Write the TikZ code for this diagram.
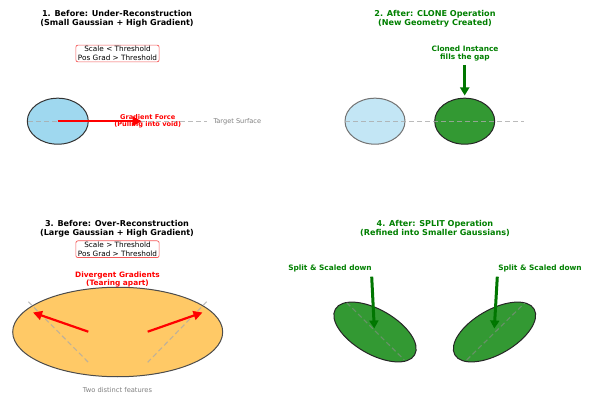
\documentclass[tikz,border=0pt]{standalone}
\usepackage{fontspec}
\setmainfont{DejaVu Sans}
\usetikzlibrary{arrows.meta,shapes.geometric}
\definecolor{skyfill}{RGB}{159,216,239}
\definecolor{lightsky}{RGB}{195,230,245}
\definecolor{gfill}{RGB}{51,153,51}
\definecolor{ofill}{RGB}{255,201,102}
\definecolor{mgreen}{RGB}{0,128,0}
\definecolor{agreen}{RGB}{0,118,0}
\definecolor{dgreen}{RGB}{0,100,0}
\definecolor{boxred}{RGB}{245,90,90}
\definecolor{guide}{RGB}{170,170,170}
\definecolor{gtext}{RGB}{128,128,128}
\tikzset{
  ttl/.style={align=center,inner sep=0pt,font=\fontsize{8.1}{9.3}\selectfont\bfseries},
  condbox/.style={draw=boxred,line width=0.7pt,rounded corners=2pt,fill=white,align=center,inner xsep=2pt,inner ysep=1.2pt,font=\fontsize{7.3}{8.7}\selectfont},
  blob/.style={ellipse,inner sep=0pt,line width=1pt},
  guideline/.style={draw=guide,line width=1.1pt,dash pattern=on 5pt off 3pt},
  redarrow/.style={draw=red,line width=2.2pt,-{Triangle[length=9pt,width=9pt]}},
  grarrow/.style={draw=agreen,line width=3pt,-{Triangle[length=8pt,width=9pt,fill=mgreen]}},
  smallnote/.style={inner sep=0pt,font=\fontsize{6.6}{7.6}\selectfont,text=gtext},
  lbl/.style={inner sep=0pt,align=center,font=\fontsize{7.4}{8.8}\selectfont\bfseries},
}
\begin{document}
\begin{tikzpicture}[x=1pt,y=-1pt]
\useasboundingbox[fill=white] (0,0) rectangle (602,395);

% ---------- Panel 1 ----------
\node[ttl] (t1) at (117,18.5) {1. Before: Under-Reconstruction\\(Small Gaussian + High Gradient)};
\node[condbox] (b1) at (117.5,53.5) {Scale < Threshold\\Pos Grad > Threshold};
\node[blob,draw=black!80,fill=skyfill,minimum width=61pt,minimum height=46pt] (e1) at (57.8,121.2) {};
\coordinate (g1a) at (28.3,121.2);
\coordinate (g1b) at (206.7,121.2);
\draw[guideline,draw opacity=0.8] (g1a) -- (g1b);
\node[smallnote,anchor=west] (ts) at (213.3,121.2) {Target Surface};
\coordinate (a1s) at (57.7,121.2);
\coordinate (a1e) at (141.7,121.2);
\draw[redarrow] (a1s) -- (a1e);
\node[lbl,text=red,font=\fontsize{6.6}{7.2}\selectfont\bfseries] (gf) at (147.7,121) {Gradient Force\\(Pulling into void)};

% ---------- Panel 2 ----------
\node[ttl,text=mgreen] (t2) at (435,18.5) {2. After: CLONE Operation\\(New Geometry Created)};
\coordinate (g2a) at (345,121.2);
\coordinate (g2b) at (524,121.2);
\node[blob,draw=black!55,fill=lightsky,minimum width=60pt,minimum height=46pt] (e2a) at (375,121.2) {};
\node[blob,draw=black!85,fill=gfill,minimum width=60pt,minimum height=46pt] (e2b) at (464.7,121.2) {};
\draw[guideline,draw opacity=0.8] (g2a) -- (g2b);
\node[lbl,text=mgreen] (cl) at (465,53.5) {Cloned Instance\\fills the gap};
\coordinate (a2s) at (464.7,65);
\coordinate (a2e) at (464.7,95.5);
\draw[grarrow] (a2s) -- (a2e);

% ---------- Panel 3 ----------
\node[ttl] (t3) at (117,228.5) {3. Before: Over-Reconstruction\\(Large Gaussian + High Gradient)};
\node[condbox] (b3) at (117.5,249.2) {Scale > Threshold\\Pos Grad > Threshold};
\node[blob,draw=black!70,fill=ofill,minimum width=210pt,minimum height=89.5pt] (e3) at (117.7,332) {};
\node[lbl,text=red] (dg) at (117.5,279.5) {Divergent Gradients\\(Tearing apart)};
\coordinate (d3a) at (28.3,301.7);
\coordinate (d3b) at (88.3,362.3);
\coordinate (d3c) at (206.7,301.7);
\coordinate (d3d) at (147.7,362.3);
\draw[guideline,draw opacity=0.75] (d3a) -- (d3b);
\draw[guideline,draw opacity=0.75] (d3c) -- (d3d);
\coordinate (r3s) at (88.3,331.7);
\coordinate (r3e) at (33,312.5);
\coordinate (r4s) at (147.7,331.7);
\coordinate (r4e) at (202.5,312.5);
\draw[redarrow] (r3s) -- (r3e);
\draw[redarrow] (r4s) -- (r4e);
\node[smallnote,font=\fontsize{6.7}{7.6}\selectfont] (tdf) at (117.5,390.3) {Two distinct features};

% ---------- Panel 4 ----------
\node[ttl,text=mgreen] (t4) at (435,228.5) {4. After: SPLIT Operation\\(Refined into Smaller Gaussians)};
\node[blob,draw=black!85,fill=gfill,minimum width=91.5pt,minimum height=44.5pt,rotate=-30] (e4a) at (375,332) {};
\node[blob,draw=black!85,fill=gfill,minimum width=91.5pt,minimum height=44.5pt,rotate=30] (e4b) at (494.5,332) {};
\coordinate (d4a) at (346.7,302.7);
\coordinate (d4b) at (404.3,360);
\coordinate (d4c) at (466.7,360);
\coordinate (d4d) at (525,302.7);
\draw[guideline,draw=black!45,draw opacity=0.6] (d4a) -- (d4b);
\draw[guideline,draw=black!45,draw opacity=0.6] (d4c) -- (d4d);
\node[lbl,text=mgreen] (sl) at (330,268.3) {Split \& Scaled down};
\node[lbl,text=mgreen] (sr) at (540,268.3) {Split \& Scaled down};
\coordinate (a4s) at (371.7,276.7);
\coordinate (a4e) at (374.3,328.5);
\coordinate (a5s) at (497.3,276.7);
\coordinate (a5e) at (494.3,328.5);
\draw[grarrow] (a4s) -- (a4e);
\draw[grarrow] (a5s) -- (a5e);
\end{tikzpicture}
\end{document}
